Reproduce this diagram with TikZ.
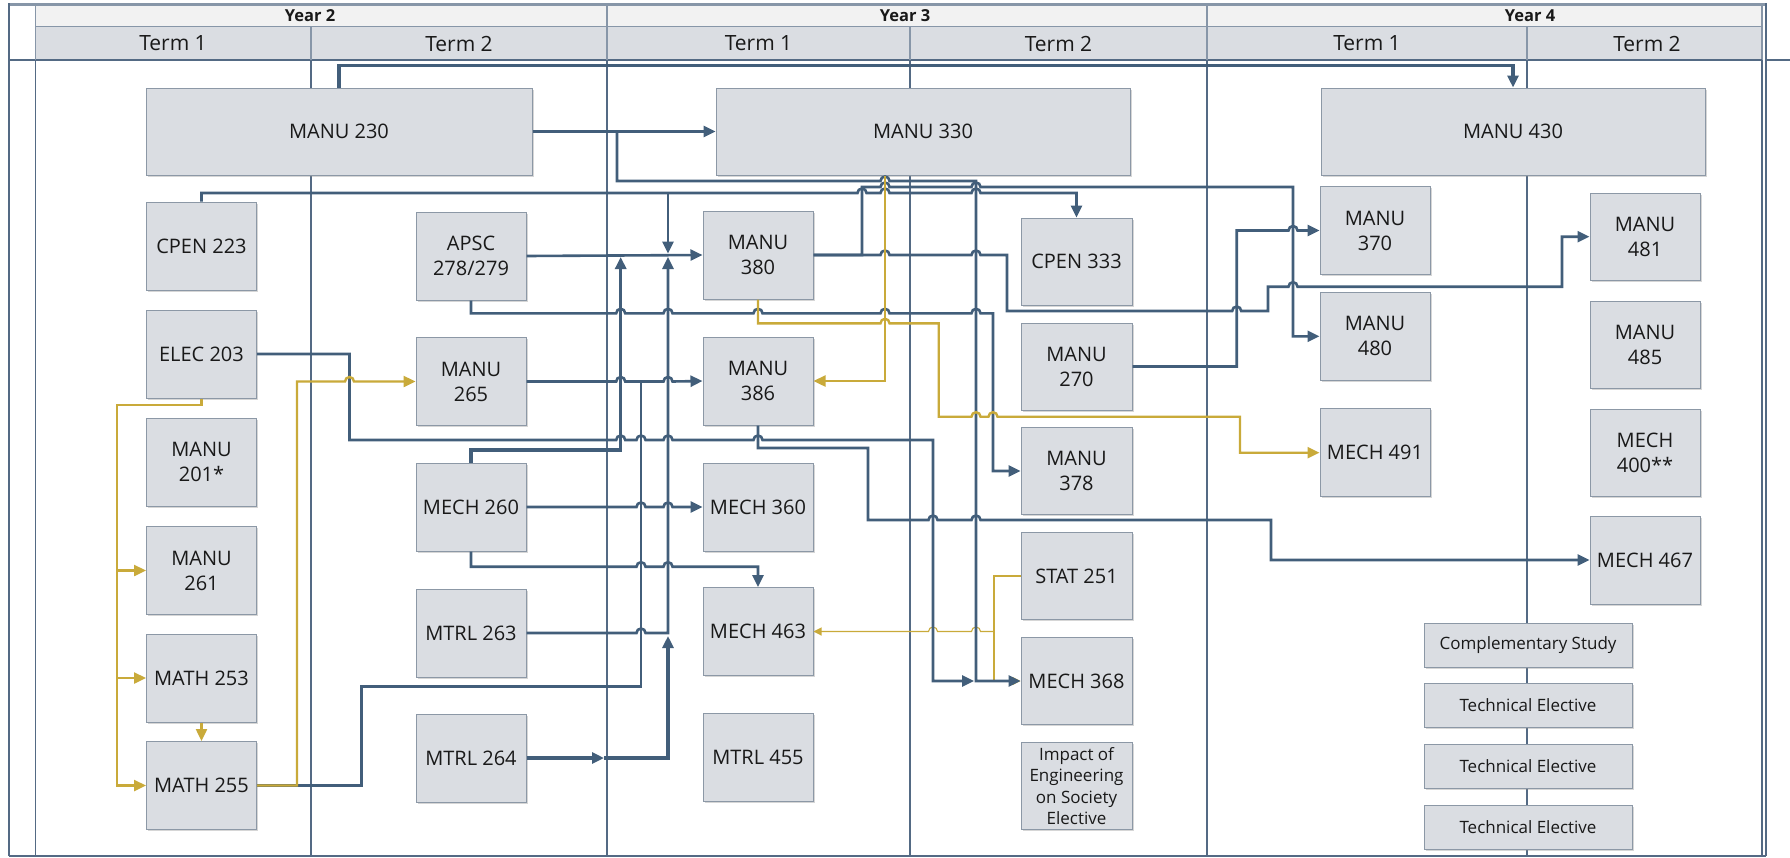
\documentclass[tikz,border=0pt]{standalone}
\usepackage{fontspec}
\setmainfont{Open Sans}
\usetikzlibrary{arrows.meta,shadows}
\definecolor{boxfill}{RGB}{218,221,226}
\definecolor{boxline}{RGB}{140,152,166}
\definecolor{dkc}{RGB}{66,94,122}
\definecolor{gdc}{RGB}{201,170,58}
\definecolor{gridc}{RGB}{84,106,132}
\definecolor{hdrc}{RGB}{242,242,242}
\definecolor{hdrline}{RGB}{135,150,168}
\definecolor{txtc}{RGB}{25,25,25}
\newcommand{\hopr}[2]{-- ({#1-4.5},#2) arc[start angle=180,end angle=0,radius=4.5pt]}
\newcommand{\hopl}[2]{-- ({#1+4.5},#2) arc[start angle=0,end angle=180,radius=4.5pt]}
\tikzset{
  cbox/.style={draw=boxline, line width=1pt, fill=boxfill, text=txtc, align=center, inner sep=0pt,
    font=\fontsize{20}{25}\selectfont, minimum width=110pt, minimum height=88pt,
    drop shadow={shadow xshift=1.6pt, shadow yshift=-1.6pt, opacity=0.35, fill=black!45}},
  widebox/.style={cbox, minimum height=87pt},
  ebox/.style={cbox, minimum width=208pt, minimum height=44pt, font=\fontsize{17}{21}\selectfont},
  dk/.style={draw=dkc, line width=2.6pt},
  dkt/.style={draw=dkc, line width=3.3pt},
  gd/.style={draw=gdc, line width=2.4pt},
  gdt/.style={draw=gdc, line width=1.1pt},
  arr/.style={-{Triangle[length=12pt,width=11pt]}},
  arrs/.style={-{Triangle[length=8pt,width=8pt]}},
  colline/.style={draw=gridc, line width=1.3pt},
  yearlab/.style={font=\fontsize{16.5}{18}\selectfont\bfseries, text=txtc, inner sep=0pt},
  termlab/.style={font=\fontsize{21}{24}\selectfont, text=txtc, inner sep=0pt}
}
\begin{document}
\begin{tikzpicture}[x=1pt,y=-1pt]
\useasboundingbox (0,0) rectangle (1790,857);
\fill[white] (0,0) rectangle (1790,857);

% outer frame
\draw[draw=hdrline, line width=2.5pt] (9,4.3) -- (1766,4.3);
\draw[draw=gridc, line width=2pt] (9,3) -- (9,855.5);
\draw[draw=gridc, line width=2pt] (1766,3) -- (1766,855.5);
\draw[draw=gridc, line width=2pt] (9,855.5) -- (1766,855.5);
\draw[draw=gridc, line width=2.5pt] (9,60) -- (35.6,60);
\draw[draw=gridc, line width=2.5pt] (1766,60) -- (1790,60);

% column lines
\foreach \cx in {35.6,311,607,910,1207,1527,1762}
  \draw[colline] (\cx,60) -- (\cx,855.5);

% header
\fill[hdrc] (35.6,5.5) rectangle (1762,26.5);
\fill[boxfill] (35.6,26.5) rectangle (1762,60);
\draw[draw=hdrline, line width=1.6pt] (35.6,26.5) -- (1762,26.5);
\draw[draw=hdrline, line width=1.6pt] (35.6,5.5) -- (35.6,60);
\draw[draw=hdrline, line width=1.6pt] (1762,5.5) -- (1762,60);
\draw[draw=gridc, line width=2pt] (35.6,60) -- (1762,60);
\foreach \cx in {607,1207}
  \draw[draw=hdrline, line width=1.6pt] (\cx,5.5) -- (\cx,60);
\foreach \cx in {311,910,1527}
  \draw[draw=hdrline, line width=1.6pt] (\cx,26.5) -- (\cx,60);
\node[yearlab] (y2) at (310,16) {Year 2};
\node[yearlab] (y3) at (905,16) {Year 3};
\node[yearlab] (y4) at (1530,16) {Year 4};
\node[termlab] (t21) at (173,43.5) {Term 1};
\node[termlab] (t22) at (459,43.5) {Term 2};
\node[termlab] (t31) at (758.5,43.5) {Term 1};
\node[termlab] (t32) at (1058.5,43.5) {Term 2};
\node[termlab] (t41) at (1367,43.5) {Term 1};
\node[termlab] (t42) at (1647,43.5) {Term 2};

% wide boxes
\node[widebox, minimum width=386pt] (m230) at (339,131.5) {MANU 230};
\node[widebox, minimum width=414pt] (m330) at (923,131.5) {MANU 330};
\node[widebox, minimum width=384pt] (m430) at (1513,131.5) {MANU 430};

% column 1
\node[cbox] (c223) at (201.5,246) {CPEN 223};
\node[cbox] (elec) at (201.5,354) {ELEC 203};
\node[cbox] (m201) at (201.5,462) {MANU\\201*};
\node[cbox] (m261) at (201.5,570.5) {MANU\\261};
\node[cbox] (m253) at (201.5,678) {MATH 253};
\node[cbox] (m255) at (201.5,785.5) {MATH 255};
% column 2
\node[cbox] (apsc) at (471,256) {APSC\\278/279};
\node[cbox] (m265) at (471,381.5) {MANU\\265};
\node[cbox] (m260) at (471,507) {MECH 260};
\node[cbox] (m263) at (471,633) {MTRL 263};
\node[cbox] (m264) at (471,758) {MTRL 264};
% column 3
\node[cbox] (m380) at (758,255) {MANU\\380};
\node[cbox] (m386) at (758,381) {MANU\\386};
\node[cbox] (m360) at (758,507) {MECH 360};
\node[cbox] (m463) at (758,631.5) {MECH 463};
\node[cbox] (m455) at (758,757) {MTRL 455};
% column 4
\node[cbox, minimum width=111pt, minimum height=87pt] (c333) at (1076.5,261.5) {CPEN 333};
\node[cbox, minimum width=111pt, minimum height=87pt] (m270) at (1076.5,366.5) {MANU\\270};
\node[cbox, minimum width=111pt, minimum height=87pt] (m378) at (1076.5,471) {MANU\\378};
\node[cbox, minimum width=111pt, minimum height=87pt] (s251) at (1076.5,576) {STAT 251};
\node[cbox, minimum width=111pt, minimum height=87pt] (m368) at (1076.5,681) {MECH 368};
\node[cbox, minimum width=111pt, minimum height=87pt, font=\fontsize{17}{21.5}\selectfont] (imp) at (1076.5,786) {Impact of\\Engineering\\on Society\\Elective};
% column 5
\node[cbox] (m370) at (1375,230.5) {MANU\\370};
\node[cbox] (m480) at (1375,336.3) {MANU\\480};
\node[cbox] (m491) at (1375,452.7) {MECH 491};
% column 6
\node[cbox, minimum height=87pt] (m481) at (1645,236.7) {MANU\\481};
\node[cbox, minimum height=87pt] (m485) at (1645,345) {MANU\\485};
\node[cbox, minimum height=87pt] (m400) at (1645,452.7) {MECH\\400**};
\node[cbox, minimum height=88pt] (m467) at (1645,560) {MECH 467};
% electives
\node[ebox] (cs) at (1528,645.3) {Complementary Study};
\node[ebox] (te1) at (1528,705.5) {Technical Elective};
\node[ebox] (te2) at (1528,766.3) {Technical Elective};
\node[ebox] (te3) at (1528,827.3) {Technical Elective};

% junction coordinates
\coordinate (x885) at (885,0);
\coordinate (j230) at (617,131.5);
\coordinate (jc223) at (668,193);
\coordinate (jg261) at (117,570.5);
\coordinate (jg253) at (117,678);
\coordinate (js463) at (994,631.5);
\coordinate (jm264) at (604,758);

% thin gold (STAT 251)
\draw[gdt,arrs] (s251.west) -- (994,576) -- (994,681) -- (m368.west);
\draw[gdt,arrs] (js463) \hopl{976}{631.5} \hopl{933}{631.5} -- (m463.east);

% dark connectors
\draw[dkt,arr] (m230.north) -- ++(0,-22) -| (m430.north);
\draw[dk,arr] (m230.east) -- (m330.west);
\draw[dk,arr] (j230) -- (617,181) \hopr{885}{181} -- (976,181) -- (976,681) -- (m368.west);
\draw[dk,arr] (c223.north) -- (201.5,193) \hopr{862}{193} \hopr{885}{193} \hopr{976}{193} -- (1076.5,193) -- (c333.north);
\draw[dk,arr] (jc223) -- (668,253.5);
\draw[dk,arr] (apsc.east) -- (m380.west);
\draw[dkt,arr] (m264.east) -- (jm264);
\draw[dkt,arr] (jm264) -- (668,758) -- (668,636);
\draw[dk,arr] (m263.east) \hopr{641}{633} -- (668,633) -- (668,257);
\draw[dkt,arr] (m260.north) -- (471,450) -- (620.7,450) -- (620.7,257);
\draw[dk,arr] (m380.east) -- (862,255) -- (862,187) \hopr{885}{187} \hopr{976}{187} -- (1293,187) -- (1293,336.3) -- (m480.west);
\draw[dk,arr] (m380.east) \hopr{885}{255} \hopr{976}{255} -- (1007,255) -- (1007,311) \hopr{1236.7}{311} -- (1268,311) -- (1268,286.7) \hopr{1293}{286.7} -- (1562,286.7) -- (1562,236.7) -- (m481.west);
\draw[dk,arr] (m270.east) -- (1236.7,366.5) -- (1236.7,230.5) \hopr{1293}{230.5} -- (m370.west);
\draw[dk,arr] (apsc.south) -- (471,313.3) \hopr{620.7}{313.3} \hopr{668}{313.3} \hopr{758}{313.3} \hopr{885}{313.3} \hopr{976}{313.3} -- (993,313.3) -- (993,471) -- (m378.west);
\draw[dk,arr] (elec.east) -- (349.5,354) -- (349.5,440) \hopr{620.7}{440} \hopr{641}{440} \hopr{668}{440} \hopr{758}{440} -- (933,440) -- (933,681) -- (974,681);
\draw[dk,arr] (m265.east) \hopr{620.7}{381.5} \hopr{668}{381.5} -- (m386.west);
\draw[dk] (m255.east) -- (361.4,785.5) -- (361.4,686.7) -- (641,686.7) -- (641,381.5);
\draw[dk,arr] (m260.east) \hopr{641}{507} \hopr{668}{507} -- (m360.west);
\draw[dk,arr] (m260.south) -- (471,566.7) \hopr{641}{566.7} \hopr{668}{566.7} -- (758,566.7) -- (m463.north);
\draw[dk,arr] (m386.south) -- (758,448) -- (868,448) -- (868,520) \hopr{933}{520} \hopr{976}{520} -- (1271,520) -- (1271,560) -- (m467.west);

% gold connectors
\draw[gd,arr] (m330.south -| x885) -- (885,381) -- (m386.east);
\draw[gd,arr] (m380.south) -- (758,323.3) \hopr{885}{323.3} -- (938.7,323.3) -- (938.7,416.7) \hopr{976}{416.7} \hopr{993}{416.7} -- (1240,416.7) -- (1240,452.7) -- (m491.west);
\draw[gd,arr] (elec.south) -- (201.5,405) -- (117,405) -- (117,785.5) -- (m255.west);
\draw[gd,arr] (jg261) -- (m261.west);
\draw[gd,arr] (jg253) -- (m253.west);
\draw[gd,arr] (m253.south) -- (m255.north);
\draw[gd,arr] (m255.east) -- (297,785.5) -- (297,381.5) \hopr{349.5}{381.5} -- (m265.west);
\end{tikzpicture}
\end{document}
